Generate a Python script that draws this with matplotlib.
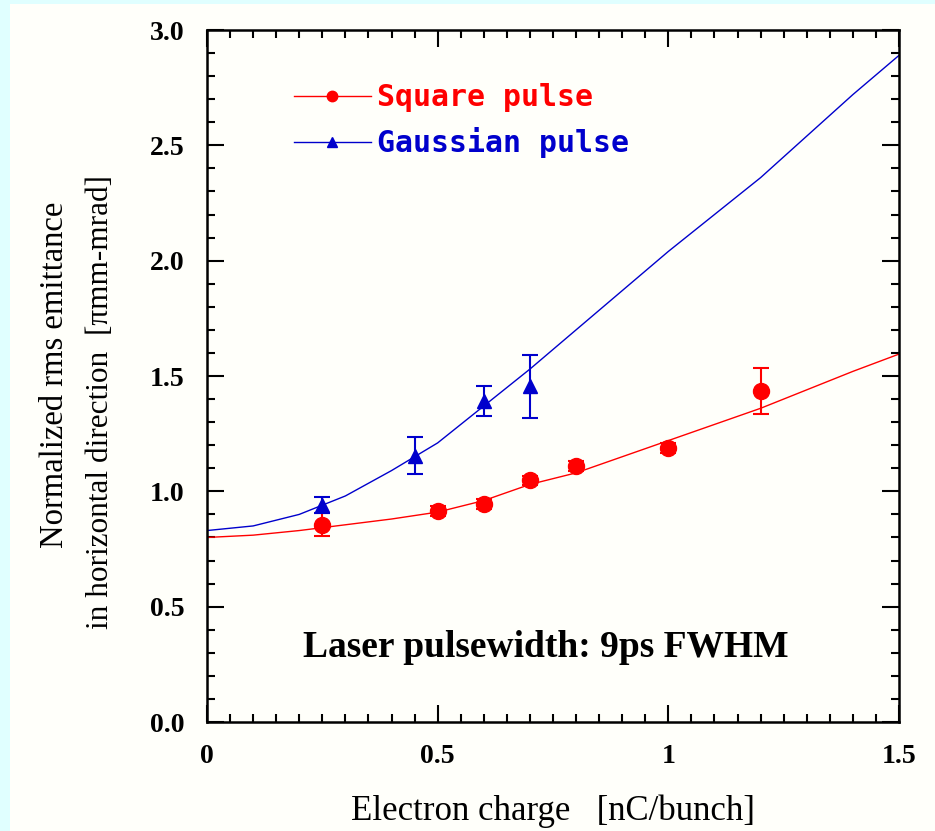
import matplotlib
matplotlib.use("Agg")
import matplotlib.pyplot as plt
from matplotlib.ticker import MultipleLocator
import numpy as np

# ---- data ----
sq_x = [0.25, 0.5, 0.6, 0.7, 0.8, 1.0, 1.2]
sq_y = [0.855, 0.915, 0.945, 1.048, 1.11, 1.188, 1.435]
sq_err = [0.05, 0.02, 0.02, 0.02, 0.02, 0.02, 0.10]

ga_x = [0.25, 0.45, 0.6, 0.7]
ga_y = [0.94, 1.155, 1.39, 1.455]
ga_err = [0.035, 0.08, 0.065, 0.135]

fit_x = [0.0, 0.1, 0.2, 0.3, 0.4, 0.5, 0.6, 0.7, 0.8, 0.9, 1.0, 1.1, 1.2, 1.3, 1.4, 1.5]
sq_fit = [0.80, 0.81, 0.83, 0.855, 0.88, 0.91, 0.96, 1.03, 1.08, 1.15, 1.22, 1.29, 1.36, 1.44, 1.52, 1.595]
ga_fit = [0.83, 0.85, 0.90, 0.98, 1.09, 1.21, 1.37, 1.53, 1.70, 1.87, 2.04, 2.20, 2.36, 2.54, 2.72, 2.89]

labels = ["Square pulse", "Gaussian pulse"]
xticks = [0, 0.5, 1, 1.5]
xticklabels = ["0", "0.5", "1", "1.5"]
yticks = [0.0, 0.5, 1.0, 1.5, 2.0, 2.5, 3.0]
yticklabels = ["0.0", "0.5", "1.0", "1.5", "2.0", "2.5", "3.0"]

RED = "#ff0000"
BLUE = "#0000cc"
CYAN = "#e0ffff"
PANEL = "#fffffa"

fig = plt.figure(figsize=(9.35, 8.31), dpi=100)
fig.patch.set_facecolor(CYAN)
# light panel behind the chart
fig.patches.append(plt.Rectangle((10 / 935, 0), 1, 1 - 4 / 831, transform=fig.transFigure,
                                 facecolor=PANEL, edgecolor="none", zorder=-10))

ax = fig.add_axes([207 / 935, 109 / 831, 692 / 935, 692 / 831])
ax.set_zorder(5)
ax.set_facecolor(PANEL)

ax.plot(fit_x, sq_fit, color=RED, lw=1.0, zorder=2)
ax.plot(fit_x, ga_fit, color=BLUE, lw=1.0, zorder=2)
ax.errorbar(sq_x, sq_y, yerr=sq_err, fmt="o", color=RED, ms=11.5, capsize=6,
            elinewidth=1.5, capthick=1.5, zorder=3)
ax.errorbar(ga_x, ga_y, yerr=ga_err, fmt="^", color=BLUE, ms=10.5, capsize=6,
            elinewidth=1.5, capthick=1.5, zorder=3)

# legend handles
h1, = ax.plot([], [], color=RED, lw=1.0, marker="o", ms=7.5)
h2, = ax.plot([], [], color=BLUE, lw=1.0, marker="^", ms=7.5)
leg = ax.legend([h1, h2], labels, loc="upper left", bbox_to_anchor=(0.125, 0.923),
                frameon=False, handlelength=2.6, handletextpad=0.2, labelspacing=0.5,
                borderpad=0, borderaxespad=0,
                prop={"family": "DejaVu Sans Mono", "weight": "bold", "size": 21.5})
for t, c in zip(leg.get_texts(), [RED, BLUE]):
    t.set_color(c)

ax.text(0.49, 0.107, "Laser pulsewidth: 9ps FWHM", transform=ax.transAxes,
        ha="center", va="center", fontsize=27, fontweight="bold",
        family="Liberation Serif", color="black")

ax.set_xlim(0, 1.5)
ax.set_ylim(0, 3.0)
ax.set_xticks(xticks)
ax.set_xticklabels(xticklabels)
ax.set_yticks(yticks)
ax.set_yticklabels(yticklabels)
ax.xaxis.set_minor_locator(MultipleLocator(0.05))
ax.yaxis.set_minor_locator(MultipleLocator(0.1))
ax.tick_params(which="both", direction="in", top=True, right=True, width=1.5, color="black")
ax.tick_params(which="major", length=12, pad=16)
ax.tick_params(which="minor", length=6)
for lab in ax.get_xticklabels() + ax.get_yticklabels():
    lab.set_family("Liberation Serif")
    lab.set_fontweight("bold")
    lab.set_fontsize(20)
for s in ax.spines.values():
    s.set_linewidth(1.8)

ax.set_xlabel("Electron charge   [nC/bunch]", family="Liberation Serif", fontsize=25, labelpad=18)
# two-line y label: first line as text, second as the axis label
ax.text(-0.2197, 0.501, "Normalized rms emittance", transform=ax.transAxes,
        rotation=90, ha="center", va="center", family="Liberation Serif", fontsize=23.5)
ax.set_ylabel("in horizontal direction  [πmm-mrad]", family="Liberation Serif",
              fontsize=22.5, va="center")
ax.yaxis.set_label_coords(-0.1546, 0.462)

fig.savefig("out.png", dpi=100, facecolor=fig.get_facecolor())
